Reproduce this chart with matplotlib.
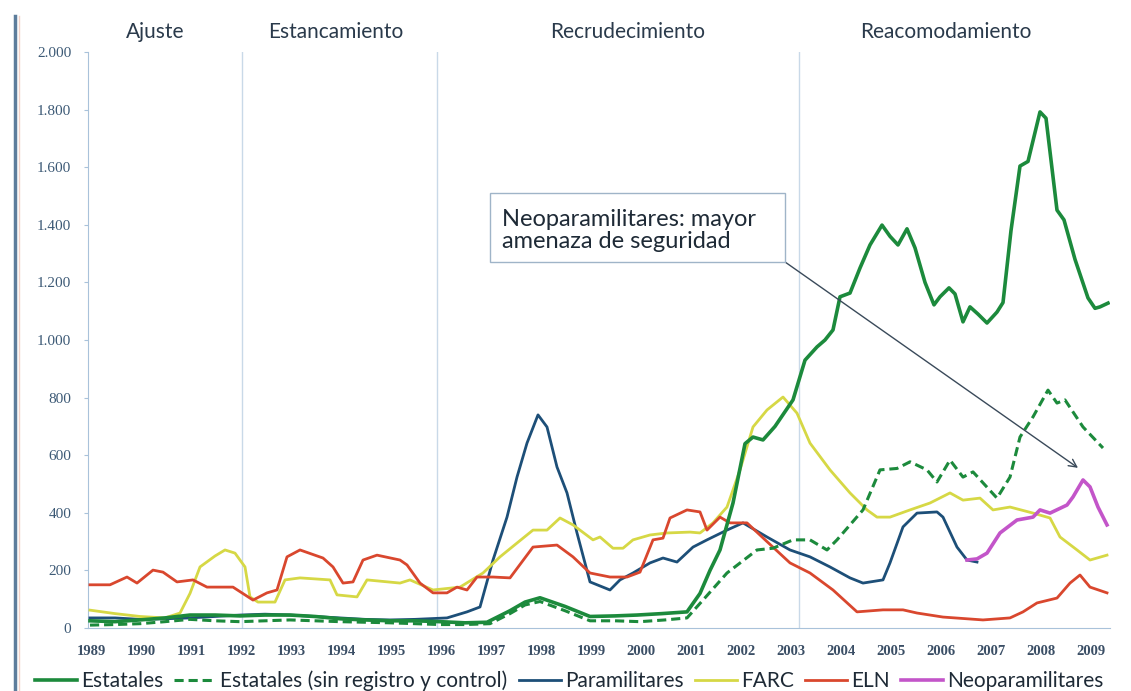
import matplotlib
matplotlib.use("Agg")
import matplotlib.pyplot as plt
from matplotlib.lines import Line2D
from matplotlib.patches import Rectangle
from matplotlib.ticker import FuncFormatter

plt.rcParams['font.family'] = ['Lato', 'DejaVu Sans']

# Datos (anio fraccional, valor)
est_x = [1989.0, 1989.5, 1990.0, 1990.5, 1991.0, 1991.5, 1992.0, 1992.5, 1993.0, 1993.5,
         1994.0, 1994.5, 1995.0, 1995.5, 1996.0, 1996.5, 1996.94, 1997.4, 1997.7, 1998.0,
         1998.5, 1999.0, 1999.5, 1999.94, 2000.44, 2000.94, 2001.2, 2001.4, 2001.6, 2001.86,
         2002.1, 2002.26, 2002.46, 2002.7, 2003.06, 2003.3, 2003.54, 2003.7, 2003.86, 2004.0,
         2004.2, 2004.4, 2004.6, 2004.84, 2005.0, 2005.16, 2005.34, 2005.5, 2005.7, 2005.88,
         2006.0, 2006.18, 2006.3, 2006.46, 2006.6, 2006.76, 2006.94, 2007.14, 2007.26, 2007.42,
         2007.6, 2007.76, 2008.0, 2008.12, 2008.34, 2008.48, 2008.7, 2008.96, 2009.1, 2009.2,
         2009.36]
est_y = [25, 22, 28, 35, 45, 45, 42, 45, 45, 40,
         32, 28, 25, 25, 22, 18, 20, 60, 90, 105,
         75, 40, 42, 45, 50, 56, 120, 200, 271, 434,
         640, 663, 653, 700, 792, 930, 976, 1000, 1035, 1150,
         1163, 1250, 1330, 1399, 1360, 1330, 1386, 1320, 1200, 1122,
         1150, 1181, 1160, 1063, 1115, 1090, 1059, 1097, 1130, 1380,
         1604, 1620, 1792, 1770, 1451, 1417, 1280, 1146, 1110, 1115,
         1128]

src_x = [1989.0, 1989.5, 1990.0, 1990.5, 1991.0, 1991.5, 1992.0, 1992.5, 1993.0, 1993.5,
         1994.0, 1994.5, 1995.0, 1995.5, 1996.0, 1996.5, 1997.0, 1997.4, 1997.7, 1998.0,
         1998.5, 1999.0, 1999.5, 2000.0, 2000.5, 2000.94, 2001.26, 2001.74, 2002.34, 2002.66,
         2003.06, 2003.4, 2003.74, 2003.94, 2004.46, 2004.8, 2005.14, 2005.4, 2005.74, 2005.94,
         2006.2, 2006.46, 2006.66, 2007.14, 2007.4, 2007.6, 2007.86, 2008.16, 2008.34, 2008.5,
         2008.86, 2009.26]
src_y = [10, 12, 15, 22, 30, 25, 22, 25, 28, 25,
         22, 20, 18, 15, 12, 12, 15, 50, 80, 92,
         60, 25, 25, 22, 28, 35, 97, 191, 271, 277,
         306, 306, 271, 306, 410, 549, 554, 577, 549, 507,
         583, 524, 542, 451, 524, 663, 733, 826, 781, 792,
         698, 625]

par_x = [1989.0, 1989.5, 1990.0, 1990.5, 1991.0, 1991.5, 1992.0, 1992.5, 1993.0, 1993.5,
         1994.0, 1994.5, 1995.0, 1995.5, 1996.14, 1996.54, 1996.8, 1997.06, 1997.34, 1997.54,
         1997.74, 1997.96, 1998.14, 1998.34, 1998.54, 1998.74, 1999.0, 1999.4, 1999.6, 1999.86,
         2000.2, 2000.46, 2000.74, 2001.06, 2001.34, 2001.74, 2002.06, 2002.54, 2003.0, 2003.4,
         2003.8, 2004.2, 2004.46, 2004.86, 2005.0, 2005.26, 2005.54, 2005.94, 2006.06, 2006.34,
         2006.54, 2006.74]
par_y = [35, 35, 30, 32, 35, 40, 45, 48, 45, 40,
         35, 30, 28, 30, 35, 56, 73, 236, 385, 524,
         642, 740, 698, 559, 469, 330, 160, 132, 167, 191,
         226, 243, 229, 281, 306, 340, 365, 316, 271, 247,
         212, 174, 156, 167, 226, 351, 399, 403, 385, 281,
         236, 229]

neo_x = [2006.54, 2006.74, 2006.94, 2007.2, 2007.54, 2007.86, 2008.0, 2008.2, 2008.54, 2008.66,
         2008.86, 2009.0, 2009.16, 2009.34]
neo_y = [236, 240, 260, 330, 375, 385, 410, 399, 427, 455,
         514, 490, 420, 358]

farc_x = [1989.0, 1989.5, 1990.0, 1990.5, 1990.8, 1991.0, 1991.2, 1991.5, 1991.7, 1991.9,
          1992.1, 1992.2, 1992.36, 1992.7, 1992.9, 1993.2, 1993.8, 1993.94, 1994.34, 1994.54,
          1995.2, 1995.4, 1995.86, 1996.4, 1996.86, 1997.2, 1997.54, 1997.86, 1998.14, 1998.4,
          1998.66, 1999.06, 1999.2, 1999.46, 1999.66, 1999.86, 2000.2, 2000.54, 2001.0, 2001.2,
          2001.46, 2001.74, 2002.0, 2002.26, 2002.54, 2002.86, 2003.14, 2003.4, 2003.8, 2004.2,
          2004.54, 2004.74, 2005.0, 2005.4, 2005.8, 2006.2, 2006.46, 2006.8, 2007.06, 2007.4,
          2007.86, 2008.2, 2008.4, 2008.74, 2009.0, 2009.34]
farc_y = [62, 50, 40, 35, 52, 120, 212, 250, 271, 260,
          212, 108, 90, 90, 167, 174, 167, 115, 108, 167,
          156, 167, 132, 142, 191, 247, 295, 340, 340, 382,
          358, 306, 316, 277, 277, 306, 323, 330, 333, 330,
          365, 420, 549, 698, 757, 802, 746, 642, 549, 469,
          410, 385, 385, 410, 434, 469, 444, 451, 410, 420,
          399, 382, 316, 271, 236, 253]

eln_x = [1989.0, 1989.4, 1989.74, 1989.94, 1990.26, 1990.46, 1990.74, 1991.06, 1991.34, 1991.86,
         1992.26, 1992.54, 1992.74, 1992.94, 1993.2, 1993.66, 1993.86, 1994.06, 1994.26, 1994.46,
         1994.74, 1995.2, 1995.34, 1995.6, 1995.86, 1996.14, 1996.34, 1996.54, 1996.74, 1997.06,
         1997.4, 1997.86, 1998.34, 1998.66, 1999.0, 1999.4, 1999.74, 2000.0, 2000.26, 2000.46,
         2000.6, 2000.94, 2001.2, 2001.34, 2001.6, 2001.8, 2002.14, 2002.54, 2003.0, 2003.4,
         2003.86, 2004.34, 2004.86, 2005.26, 2005.54, 2006.06, 2006.86, 2007.4, 2007.66, 2007.94,
         2008.34, 2008.6, 2008.8, 2009.0, 2009.34]
eln_y = [150, 150, 177, 156, 201, 194, 160, 167, 142, 142,
         97, 122, 132, 247, 271, 243, 212, 156, 160, 236,
         253, 236, 219, 156, 122, 122, 142, 132, 177, 177,
         174, 281, 288, 247, 191, 177, 177, 194, 306, 312,
         382, 410, 403, 340, 385, 365, 365, 300, 226, 191,
         132, 56, 63, 63, 52, 38, 28, 35, 56, 87,
         104, 156, 184, 142, 122]

anios = list(range(1989, 2010))
periodos = ['Ajuste', 'Estancamiento', 'Recrudecimiento', 'Reacomodamiento']
periodos_x = [1990.31, 1993.92, 1999.76, 2006.12]
cortes = [1992.04, 1995.94, 2003.18]

verde = '#1c8a3c'
azul = '#1d4f78'
amarillo = '#d6d845'
rojo = '#d9472e'
magenta = '#c355c9'

fig = plt.figure(figsize=(11.31, 6.91), dpi=100)
ax = fig.add_axes([88 / 1131, 1 - 628 / 691, 1022 / 1131, 576 / 691])

for c in cortes:
    ax.axvline(c, color='#c9d9e8', lw=1.0, zorder=1)

ax.plot(est_x, est_y, color=verde, lw=2.6, label='Estatales', zorder=5)
ax.plot(src_x, src_y, color=verde, lw=2.2, ls=(0, (3, 1.6)),
        label='Estatales (sin registro y control)', zorder=4)
ax.plot(par_x, par_y, color=azul, lw=2.0, label='Paramilitares', zorder=3)
ax.plot(farc_x, farc_y, color=amarillo, lw=2.0, label='FARC', zorder=3)
ax.plot(eln_x, eln_y, color=rojo, lw=2.0, label='ELN', zorder=3)
ax.plot(neo_x, neo_y, color=magenta, lw=2.6, label='Neoparamilitares', zorder=4)

ax.set_xlim(1988.96, 2009.4)
ax.set_ylim(0, 2000)
ax.set_yticks(range(0, 2001, 200))
ax.yaxis.set_major_formatter(FuncFormatter(lambda v, p: f'{int(v):,}'.replace(',', '.')))
ax.set_xticks([a + 0.02 for a in anios])
ax.set_xticklabels([str(a) for a in anios], family='Liberation Serif',
                   fontweight='bold', fontsize=10.5, color='#3b4f66')
ax.tick_params(axis='y', labelsize=11, colors='#3d5a76', length=3, width=0.8, pad=9)
ax.tick_params(axis='x', length=0, pad=12)
for lab in ax.get_yticklabels():
    lab.set_family('Liberation Serif')
    lab.set_color('#3d5a76')
ax.tick_params(axis='y', color='#a9c2da')

for s in ['top', 'right']:
    ax.spines[s].set_visible(False)
ax.spines['left'].set_color('#a9c2da')
ax.spines['bottom'].set_color('#a9c2da')

for nombre, px in zip(periodos, periodos_x):
    ax.text(px, 2069, nombre, ha='center', va='center', fontsize=15,
            color='#2a3a4b', clip_on=False)

# cuadro de la anotacion
ax.add_patch(Rectangle((1997.0, 1271), 5.9, 239, fc='white', ec='#9fb4c8', lw=1.0,
                       zorder=7, clip_on=False))
ax.text(1997.24, 1381, 'Neoparamilitares: mayor\namenaza de seguridad',
        ha='left', va='center', fontsize=17, color='#1e2a36', linespacing=1.05,
        zorder=8)
ax.annotate('', xy=(2008.76, 556), xytext=(2002.9, 1271),
            arrowprops=dict(arrowstyle='->', color='#3a4a5a', lw=1.0,
                            mutation_scale=14, shrinkA=0, shrinkB=0), zorder=6)

fig.legend(loc='center left', bbox_to_anchor=(0.018, 0.015), ncol=6, frameon=False,
           fontsize=15, handlelength=2.0, columnspacing=0.55, handletextpad=0.2,
           borderpad=0.2, labelcolor='#1e2a36')

fig.add_artist(Line2D([15 / 1131, 15 / 1131], [0, 1 - 16 / 691], color='#5d7d9c', lw=2.5))
fig.add_artist(Line2D([19 / 1131, 19 / 1131], [0, 1 - 16 / 691], color='#f3d2c8', lw=1.0))

fig.savefig('out.png', dpi=100)
